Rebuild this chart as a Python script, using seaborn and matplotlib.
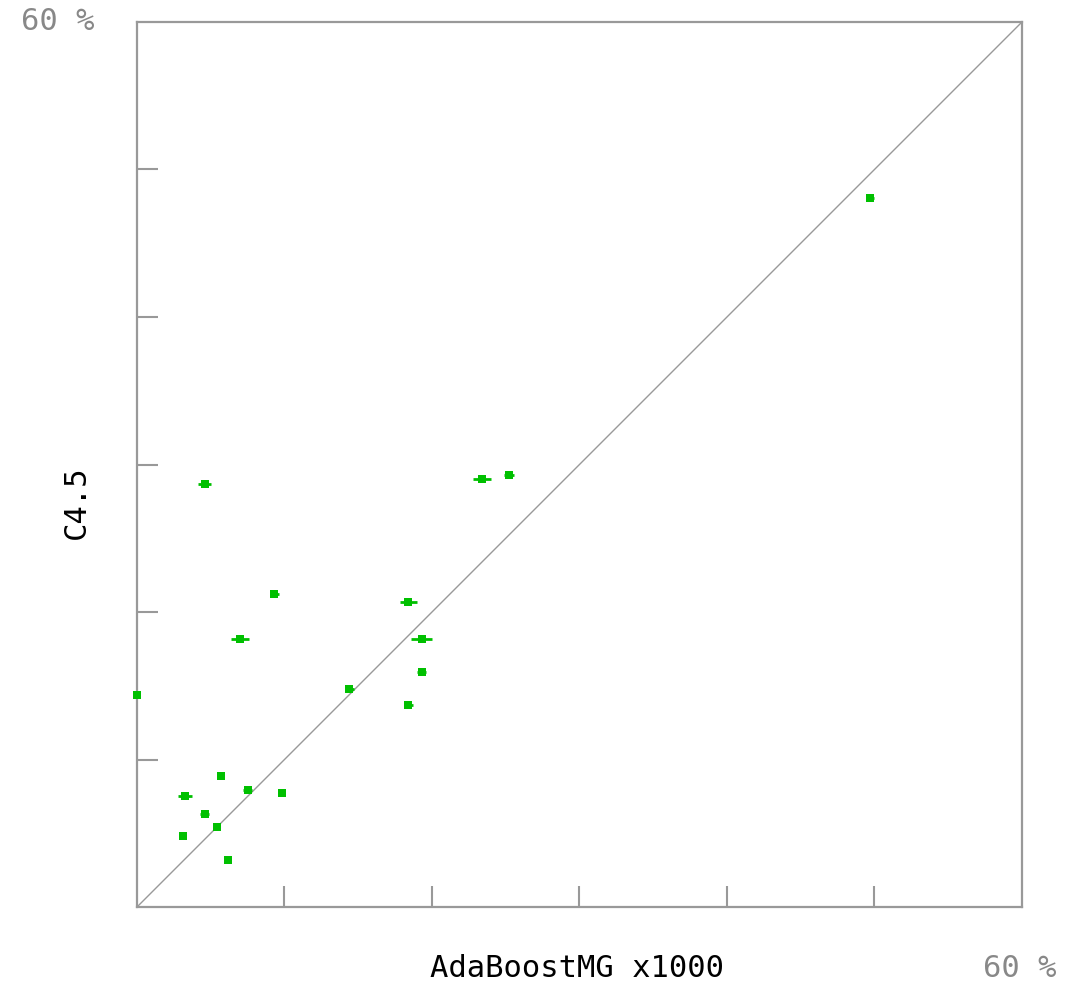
import seaborn as sns
import matplotlib.pyplot as plt
import pandas as pd

# Error rates (%).
adaboost = [49.7, 25.2, 23.4, 4.6, 9.3, 18.4, 7.0, 19.3, 19.3, 14.4,
            0.0, 18.4, 5.7, 7.5, 3.25, 9.8, 4.6, 5.4, 3.1, 6.2]
c45 = [48.1, 29.3, 29.0, 28.7, 21.2, 20.7, 18.2, 18.2, 15.9, 14.8,
       14.4, 13.7, 8.9, 7.9, 7.5, 7.7, 6.3, 5.4, 4.8, 3.2]
adaboost_err = [0.3, 0.35, 0.6, 0.45, 0.3, 0.6, 0.6, 0.7, 0.3, 0.3,
                0.0, 0.3, 0.0, 0.3, 0.5, 0.0, 0.3, 0.0, 0.0, 0.0]
axis_max = 60
tick_values = [10, 20, 30, 40, 50]

df = pd.DataFrame({"AdaBoostMG": adaboost, "C4.5": c45, "err": adaboost_err})

sns.set_style("white")
plt.rcParams["font.family"] = ["DejaVu Sans Mono", "DejaVu Sans"]

fig = plt.figure(figsize=(10.66, 9.86), dpi=100)
ax = fig.add_axes([0.1285, 0.0801, 0.8302, 0.8976])

green = "#00c000"
grey = "#999999"

# Diagonal reference line.
ax.plot([0, axis_max], [0, axis_max], color=grey, lw=1.0, zorder=1)

# Horizontal error bars then the points themselves.
ax.errorbar(df["AdaBoostMG"], df["C4.5"], xerr=df["err"], fmt="none",
            ecolor=green, elinewidth=2.0, capsize=0, zorder=2, clip_on=False)
sns.scatterplot(data=df, x="AdaBoostMG", y="C4.5", marker="s", s=30,
                color=green, edgecolor=green, linewidth=0, ax=ax,
                zorder=3, clip_on=False)

ax.set_xlim(0, axis_max)
ax.set_ylim(0, axis_max)
ax.set_xticks(tick_values)
ax.set_yticks(tick_values)
ax.set_xticklabels([])
ax.set_yticklabels([])
ax.tick_params(direction="in", length=15, width=1.5, color=grey,
               bottom=True, left=True, top=False, right=False)
for spine in ax.spines.values():
    spine.set_color(grey)
    spine.set_linewidth(1.6)

ax.set_xlabel("")
ax.set_ylabel("")
fig.text(0.5415, 0.018, "AdaBoostMG x1000", ha="center", va="center",
         fontsize=22, color="black")
fig.text(0.072, 0.4905, "C4.5", ha="center", va="center", rotation=90,
         fontsize=22, color="black")
fig.text(0.054, 0.978, "60 %", ha="center", va="center", fontsize=22,
         color="#888888")
fig.text(0.957, 0.018, "60 %", ha="center", va="center", fontsize=22,
         color="#888888")

fig.savefig("out.png", dpi=100)
